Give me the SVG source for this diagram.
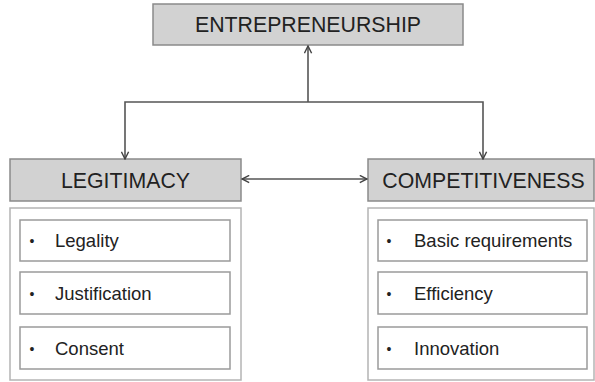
<svg xmlns="http://www.w3.org/2000/svg" width="595" height="382" viewBox="0 0 595 382">
  <style>
    .head { fill: #d2d2d2; stroke: #8a8a8a; stroke-width: 1.5; }
    .panel { fill: #ffffff; stroke: #b4b4b4; stroke-width: 1.5; }
    .item { fill: #ffffff; stroke: #9a9a9a; stroke-width: 1.5; }
    .htxt { font-family: "Liberation Sans", Arial, sans-serif; font-size: 21.3px; fill: #222; text-anchor: middle; }
    .itxt { font-family: "Liberation Sans", Arial, sans-serif; font-size: 18.5px; fill: #222; }
    .bul { font-family: "Liberation Sans", Arial, sans-serif; font-size: 14px; fill: #222; text-anchor: middle; }
    .wire { fill: none; stroke: #555; stroke-width: 1.6; }
  </style>
  <defs>
    <marker id="tip" viewBox="0 0 10 10" refX="9" refY="5" markerWidth="9" markerHeight="9" markerUnits="userSpaceOnUse" orient="auto-start-reverse">
      <path d="M1,1 L9,5 L1,9" fill="none" stroke="#444" stroke-width="1.6"/>
    </marker>
  </defs>
  <rect width="595" height="382" fill="#ffffff"/>

  <g id="entrepreneurship">
    <rect class="head" x="153" y="4" width="310" height="41"/>
    <text class="htxt" x="308" y="32">ENTREPRENEURSHIP</text>
  </g>

  <g id="legitimacy">
    <rect class="head" x="10" y="159" width="231" height="42"/>
    <text class="htxt" x="125.5" y="187.5">LEGITIMACY</text>
    <rect class="panel" x="10" y="208" width="231" height="172"/>
  </g>
  <g id="legality">
    <rect class="item" x="20" y="220" width="210" height="41"/>
    <text class="bul" x="32" y="246">•</text>
    <text class="itxt" x="55" y="247">Legality</text>
  </g>
  <g id="justification">
    <rect class="item" x="20" y="272" width="210" height="42"/>
    <text class="bul" x="32" y="299">•</text>
    <text class="itxt" x="55" y="300">Justification</text>
  </g>
  <g id="consent">
    <rect class="item" x="20" y="327" width="210" height="42"/>
    <text class="bul" x="32" y="354">•</text>
    <text class="itxt" x="55" y="355">Consent</text>
  </g>

  <g id="competitiveness">
    <rect class="head" x="368" y="159" width="226" height="42"/>
    <text class="htxt" x="483.5" y="187.5">COMPETITIVENESS</text>
    <rect class="panel" x="368" y="208" width="226" height="172"/>
  </g>
  <g id="basic-requirements">
    <rect class="item" x="378" y="220" width="209" height="41"/>
    <text class="bul" x="389" y="246">•</text>
    <text class="itxt" x="414" y="247">Basic requirements</text>
  </g>
  <g id="efficiency">
    <rect class="item" x="378" y="272" width="209" height="42"/>
    <text class="bul" x="389" y="299">•</text>
    <text class="itxt" x="414" y="300">Efficiency</text>
  </g>
  <g id="innovation">
    <rect class="item" x="378" y="327" width="209" height="42"/>
    <text class="bul" x="389" y="354">•</text>
    <text class="itxt" x="414" y="355">Innovation</text>
  </g>

  <g id="connectors">
    <path class="wire" d="M308,102 L308,46" marker-end="url(#tip)"/>
    <path class="wire" d="M125,159 L125,102 L483,102 L483,159" marker-start="url(#tip)" marker-end="url(#tip)"/>
    <path class="wire" d="M242,179 L367,179" marker-start="url(#tip)" marker-end="url(#tip)"/>
  </g>
</svg>
